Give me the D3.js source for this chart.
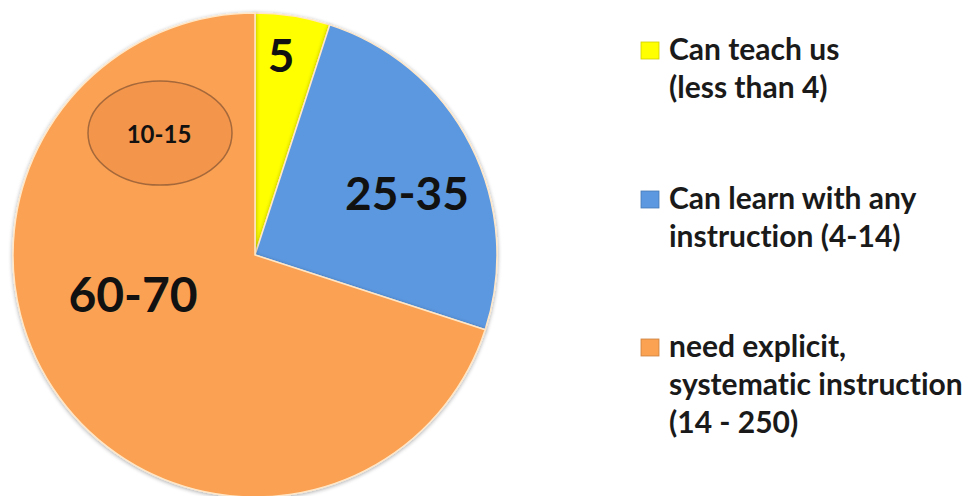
<!DOCTYPE html>
<html>
<head>
<meta charset="utf-8">
<script src="https://cdn.jsdelivr.net/npm/d3@7"></script>
<style>
html,body{margin:0;padding:0;background:#fff;}
svg{display:block;}
text{font-family:Lato,"Open Sans",sans-serif;font-weight:bold;font-variant-ligatures:none;}
</style>
</head>
<body>
<svg id="chart" width="974" height="496"></svg>
<script>
const categories = ["Can teach us (less than 4)", "Can learn with any instruction (4-14)", "need explicit, systematic instruction (14 - 250)"];
const values = [5, 25, 70];
const sliceLabels = ["5", "25-35", "60-70"];
const colors = ["#ffff00", "#5b98e0", "#fba152"];
const legendLines = [
  ["Can teach us", "(less than 4)"],
  ["Can learn with any", "instruction (4-14)"],
  ["need explicit,", "systematic instruction", "(14 - 250)"]
];
const subLabel = "10-15";

const svg = d3.select("#chart");
const cx = 255, cy = 255, r = 242;

const defs = svg.append("defs");
const flt = defs.append("filter").attr("id","sh").attr("x","-10%").attr("y","-10%").attr("width","120%").attr("height","120%");
flt.append("feGaussianBlur").attr("in","SourceAlpha").attr("stdDeviation",2).attr("result","b");
flt.append("feOffset").attr("dx",0).attr("dy",1).attr("result","o");
flt.append("feComponentTransfer").append("feFuncA").attr("type","linear").attr("slope",0.35);
const m = flt.append("feMerge");
m.append("feMergeNode");
m.append("feMergeNode").attr("in","SourceGraphic");

const pie = d3.pie().sort(null).value(d => d);
const arcs = pie(values);
const arc = d3.arc().innerRadius(0).outerRadius(r);

const g = svg.append("g").attr("transform", `translate(${cx},${cy})`);
g.selectAll("path.slice").data(arcs).join("path")
  .attr("class","slice")
  .attr("d", arc)
  .attr("fill", (d,i) => colors[i])
  .attr("stroke", "#ffe7c8")
  .attr("stroke-width", 1.5)
  .attr("filter","url(#sh)");

// slice labels
const labelPos = [
  {x: 281-cx, y: 72-cy, size: 46},
  {x: 407-cx, y: 210-cy, size: 46},
  {x: 133-cx, y: 312-cy, size: 48}
];
g.selectAll("text.lab").data(arcs).join("text")
  .attr("class","lab")
  .attr("x", (d,i) => labelPos[i].x)
  .attr("y", (d,i) => labelPos[i].y)
  .attr("text-anchor","middle")
  .attr("font-size", (d,i) => labelPos[i].size)
  .attr("fill","#111")
  .text((d,i) => sliceLabels[i]);

// sub-group ellipse
svg.append("ellipse")
  .attr("cx",160).attr("cy",133).attr("rx",72).attr("ry",52)
  .attr("fill","#f3954a").attr("stroke","#a5683a").attr("stroke-width",1.5);
svg.append("text").attr("x",159).attr("y",143).attr("text-anchor","middle")
  .attr("font-size",24).attr("fill","#111").text(subLabel);

// legend
const legY = [60, 209, 357];
const lg = svg.append("g");
categories.forEach((c,i) => {
  const row = lg.append("g").attr("transform", `translate(641,${legY[i]})`);
  row.append("rect").attr("x",0).attr("y",-18).attr("width",18).attr("height",17)
    .attr("fill", colors[i]).attr("stroke", d3.color(colors[i]).darker(0.6)).attr("stroke-width",0.8);
  legendLines[i].forEach((ln,j) => {
    row.append("text").attr("x",28).attr("y", j*38)
      .attr("font-size",30).attr("fill","#1a1a1a").text(ln);
  });
});
</script>
</body>
</html>
